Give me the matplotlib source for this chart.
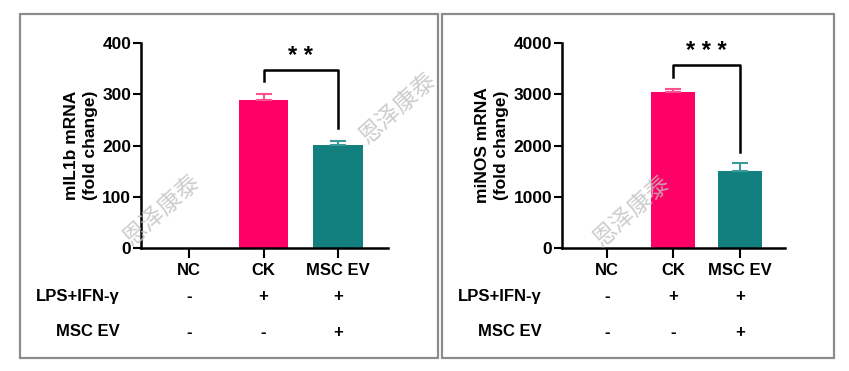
import matplotlib.pyplot as plt
import matplotlib.patches as mpatches
import matplotlib.transforms as mtransforms

plt.rcParams['font.family'] = ['Liberation Sans', 'DejaVu Sans']
plt.rcParams['font.weight'] = 'bold'

# data
groups = ['NC', 'CK', 'MSC EV']
lps_row = ['-', '+', '+']
ev_row = ['-', '-', '+']
il1b_mean = [0, 289, 201]
il1b_err = [0, 11, 7]
inos_mean = [0, 3040, 1500]
inos_err = [0, 65, 160]
bar_colors = ['#ff0066', '#ff0066', '#138080']
err_colors = ['#ff0066', '#ff4f8f', '#3a9a9a']

W, H = 849, 371
fig = plt.figure(figsize=(W / 100, H / 100), dpi=100)


def px_axes(x0, x1, y_top, y_bot):
    return fig.add_axes([x0 / W, 1 - y_bot / H, (x1 - x0) / W, (y_bot - y_top) / H])


def draw_panel(ax, means, errs, ymax, step, ylabel, xlim, bracket, stars):
    for i in range(3):
        if means[i] > 0:
            ax.bar(i, means[i], width=0.66, color=bar_colors[i], zorder=2)
            ax.errorbar(i, means[i], yerr=[[0], [errs[i]]], color=err_colors[i],
                        capsize=6, elinewidth=1.5, capthick=1.5, zorder=3)
    ax.set_xlim(*xlim)
    ax.set_ylim(0, ymax)
    ax.set_yticks(range(0, ymax + 1, step))
    ax.set_xticks(range(3))
    ax.set_xticklabels(groups, fontsize=12, fontweight='bold')
    ax.tick_params(axis='y', labelsize=12.5, width=1.5, length=6, pad=1)
    ax.tick_params(axis='x', width=1.5, length=7, pad=4)
    for s in ['top', 'right']:
        ax.spines[s].set_visible(False)
    for s in ['left', 'bottom']:
        ax.spines[s].set_linewidth(1.8)
    for lab in ax.get_yticklabels():
        lab.set_fontweight('bold')
    ax.set_ylabel(ylabel, fontsize=12.5, fontweight='bold', labelpad=3, linespacing=1.35)

    # significance bracket
    yb, yl, yr = bracket
    ax.plot([1, 1, 2, 2], [yl, yb, yb, yr], color='black', lw=1.8, clip_on=False)
    ax.text(1.5, yb + ymax * 0.01, stars, ha='center', va='bottom',
            fontsize=17, fontweight='bold', clip_on=False)

    # treatment rows
    tr = mtransforms.blended_transform_factory(ax.transData, fig.transFigure)
    for i in range(3):
        ax.text(i, 1 - 296 / H, lps_row[i], transform=tr, ha='center', va='center',
                fontsize=12, fontweight='bold')
        ax.text(i, 1 - 332 / H, ev_row[i], transform=tr, ha='center', va='center',
                fontsize=12, fontweight='bold')


ax1 = px_axes(141, 388, 43, 248)
draw_panel(ax1, il1b_mean, il1b_err, 400, 100, 'mIL1b mRNA\n(fold change)',
           (-0.644, 2.67), (348, 326, 234), '* *')
ax2 = px_axes(562, 785, 43, 248)
draw_panel(ax2, inos_mean, inos_err, 4000, 1000, 'miNOS mRNA\n(fold change)',
           (-0.677, 2.68), (3570, 3340, 1880), '* * *')

# row labels
for xr in [120, 542]:
    fig.text(xr / W, 1 - 296 / H, 'LPS+IFN-γ', ha='right', va='center',
             fontsize=12, fontweight='bold')
    fig.text(xr / W, 1 - 332 / H, 'MSC EV', ha='right', va='center',
             fontsize=12, fontweight='bold')

# panel frames
for x0, x1 in [(20, 438), (442, 834)]:
    fig.patches.append(mpatches.Rectangle((x0 / W, 1 - 358 / H), (x1 - x0) / W, 344 / H,
                                          transform=fig.transFigure, fill=False,
                                          edgecolor='#8c8c8c', lw=1.6))

# watermarks
for cx, cy in [(162, 210), (398, 108), (632, 211)]:
    fig.text(cx / W, 1 - cy / H, '恩泽康泰', rotation=42, ha='center', va='center',
             fontsize=17, color='#c0c0c0', alpha=0.8, fontweight='light',
             family=['Noto Sans CJK SC', 'DejaVu Sans'])

fig.savefig('out.png', dpi=100)
